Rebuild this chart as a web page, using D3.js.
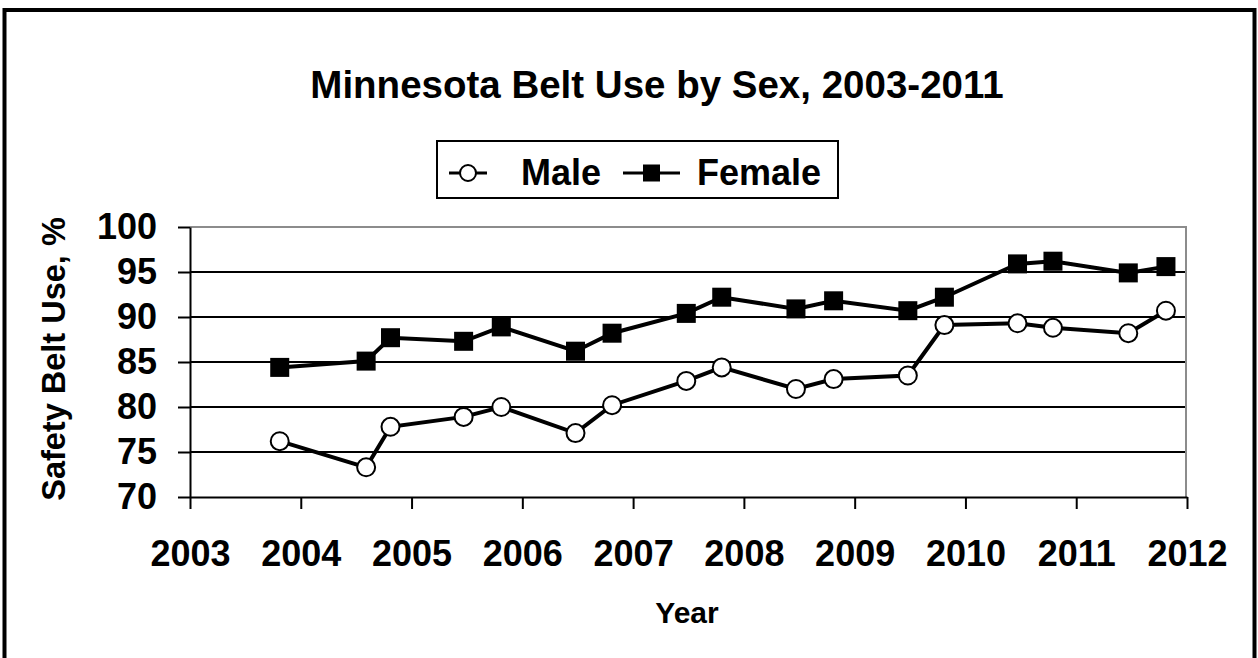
<!DOCTYPE html>
<html>
<head>
<meta charset="utf-8">
<script src="https://cdn.jsdelivr.net/npm/d3@7"></script>
<style>
  body { margin: 0; background: #ffffff; }
  svg { display: block; font-family: "Liberation Sans", Arial, sans-serif; font-weight: bold; }
</style>
</head>
<body>
<div id="chart"></div>
<script>
// Survey dates (decimal years) and belt use, %
const surveyDates = [2003.81, 2004.59, 2004.81, 2005.47, 2005.81, 2006.48, 2006.81, 2007.48, 2007.80,
    2008.47, 2008.81, 2009.48, 2009.81, 2010.47, 2010.79, 2011.47, 2011.81];
const maleUse = [76.2, 73.3, 77.8, 78.9, 80.0, 77.1, 80.2, 82.9, 84.4, 82.0, 83.1, 83.5, 89.1, 89.3, 88.8, 88.2, 90.7];
const femaleUse = [84.4, 85.1, 87.7, 87.3, 88.9, 86.2, 88.2, 90.4, 92.2, 90.9, 91.8, 90.7, 92.2, 95.9, 96.2, 94.9, 95.6];
const yearTicks = [2003, 2004, 2005, 2006, 2007, 2008, 2009, 2010, 2011, 2012];
const useTicks = [70, 75, 80, 85, 90, 95, 100];
const seriesNames = ["Male", "Female"];

const width = 1258;
const height = 658;
const plot = { left: 190, right: 1187, top: 227, bottom: 497 };

const svg = d3.select("#chart")
    .append("svg")
    .attr("width", width)
    .attr("height", height);

// Outer frame (bottom edge runs off the picture)
svg.append("rect")
    .attr("x", 4.5)
    .attr("y", 10)
    .attr("width", 1250)
    .attr("height", 700)
    .attr("fill", "none")
    .attr("stroke", "#000")
    .attr("stroke-width", 4);

const x = d3.scaleLinear().domain([2003, 2012]).range([plot.left, plot.right]);
const y = d3.scaleLinear().domain([70, 100]).range([plot.bottom, plot.top]);

// Gridlines
svg.append("g")
    .selectAll("line")
    .data(useTicks.filter(d => d > 70 && d < 100))
    .enter()
    .append("line")
    .attr("x1", plot.left)
    .attr("x2", plot.right - 1)
    .attr("y1", d => y(d))
    .attr("y2", d => y(d))
    .attr("stroke", "#000")
    .attr("stroke-width", 2);

// Plot area top / right border (gray)
svg.append("path")
    .attr("d", `M${plot.left},${y(100)}H${plot.right - 1}V${plot.bottom}`)
    .attr("fill", "none")
    .attr("stroke", "#8c8c8c")
    .attr("stroke-width", 2);

// Axes
const yAxis = svg.append("g")
    .attr("transform", `translate(${plot.left},0)`)
    .call(d3.axisLeft(y).tickValues(useTicks).tickSize(12).tickSizeOuter(0).tickPadding(21));

const xAxis = svg.append("g")
    .attr("transform", `translate(0,${plot.bottom})`)
    .call(d3.axisBottom(x).tickValues(yearTicks).tickFormat(d3.format("d"))
        .tickSize(12).tickSizeOuter(0).tickPadding(31));

[xAxis, yAxis].forEach(a => {
    a.selectAll("path, line").attr("stroke", "#000").attr("stroke-width", 2);
    a.selectAll("text")
        .attr("fill", "#000")
        .style("font-family", "'Liberation Sans', Arial, sans-serif")
        .style("font-weight", "bold")
        .style("font-size", "36px");
});

// Series
const rows = surveyDates.map((d, i) => ({ date: d, male: maleUse[i], female: femaleUse[i] }));

const line = key => d3.line().x(d => x(d.date)).y(d => y(d[key]));

svg.append("path")
    .datum(rows)
    .attr("d", line("female"))
    .attr("fill", "none")
    .attr("stroke", "#000")
    .attr("stroke-width", 4);

svg.append("path")
    .datum(rows)
    .attr("d", line("male"))
    .attr("fill", "none")
    .attr("stroke", "#000")
    .attr("stroke-width", 4);

svg.append("g")
    .selectAll("rect")
    .data(rows)
    .enter()
    .append("rect")
    .attr("x", d => x(d.date) - 9.5)
    .attr("y", d => y(d.female) - 9.5)
    .attr("width", 19)
    .attr("height", 19)
    .attr("fill", "#000");

svg.append("g")
    .selectAll("circle")
    .data(rows)
    .enter()
    .append("circle")
    .attr("cx", d => x(d.date))
    .attr("cy", d => y(d.male))
    .attr("r", 9)
    .attr("fill", "#fff")
    .attr("stroke", "#000")
    .attr("stroke-width", 2);

// Title
svg.append("text")
    .attr("x", 657)
    .attr("y", 98)
    .attr("text-anchor", "middle")
    .style("font-size", "38.5px")
    .text("Minnesota Belt Use by Sex, 2003-2011");

// Axis titles
svg.append("text")
    .attr("x", 687)
    .attr("y", 623)
    .attr("text-anchor", "middle")
    .style("font-size", "30px")
    .text("Year");

svg.append("text")
    .attr("transform", "translate(65,359) rotate(-90)")
    .attr("text-anchor", "middle")
    .style("font-size", "32.5px")
    .text("Safety Belt Use, %");

// Legend
const legend = svg.append("g");
legend.append("rect")
    .attr("x", 437)
    .attr("y", 141)
    .attr("width", 401)
    .attr("height", 57)
    .attr("fill", "#fff")
    .attr("stroke", "#000")
    .attr("stroke-width", 2);

const legendItems = [
    { name: seriesNames[0], x0: 449, x1: 487, text: 521, marker: "circle" },
    { name: seriesNames[1], x0: 623, x1: 680, text: 697, marker: "square" },
];
const legendY = 173;

legendItems.forEach(item => {
    legend.append("line")
        .attr("x1", item.x0).attr("x2", item.x1)
        .attr("y1", legendY).attr("y2", legendY)
        .attr("stroke", "#000").attr("stroke-width", 3);
    const cx = (item.x0 + item.x1) / 2;
    if (item.marker === "circle") {
        legend.append("circle")
            .attr("cx", cx).attr("cy", legendY).attr("r", 8)
            .attr("fill", "#fff").attr("stroke", "#000").attr("stroke-width", 2);
    } else {
        legend.append("rect")
            .attr("x", cx - 8.5).attr("y", legendY - 8.5)
            .attr("width", 17).attr("height", 17)
            .attr("fill", "#000");
    }
    legend.append("text")
        .attr("x", item.text)
        .attr("y", 185)
        .style("font-size", "36px")
        .text(item.name);
});
</script>
</body>
</html>
